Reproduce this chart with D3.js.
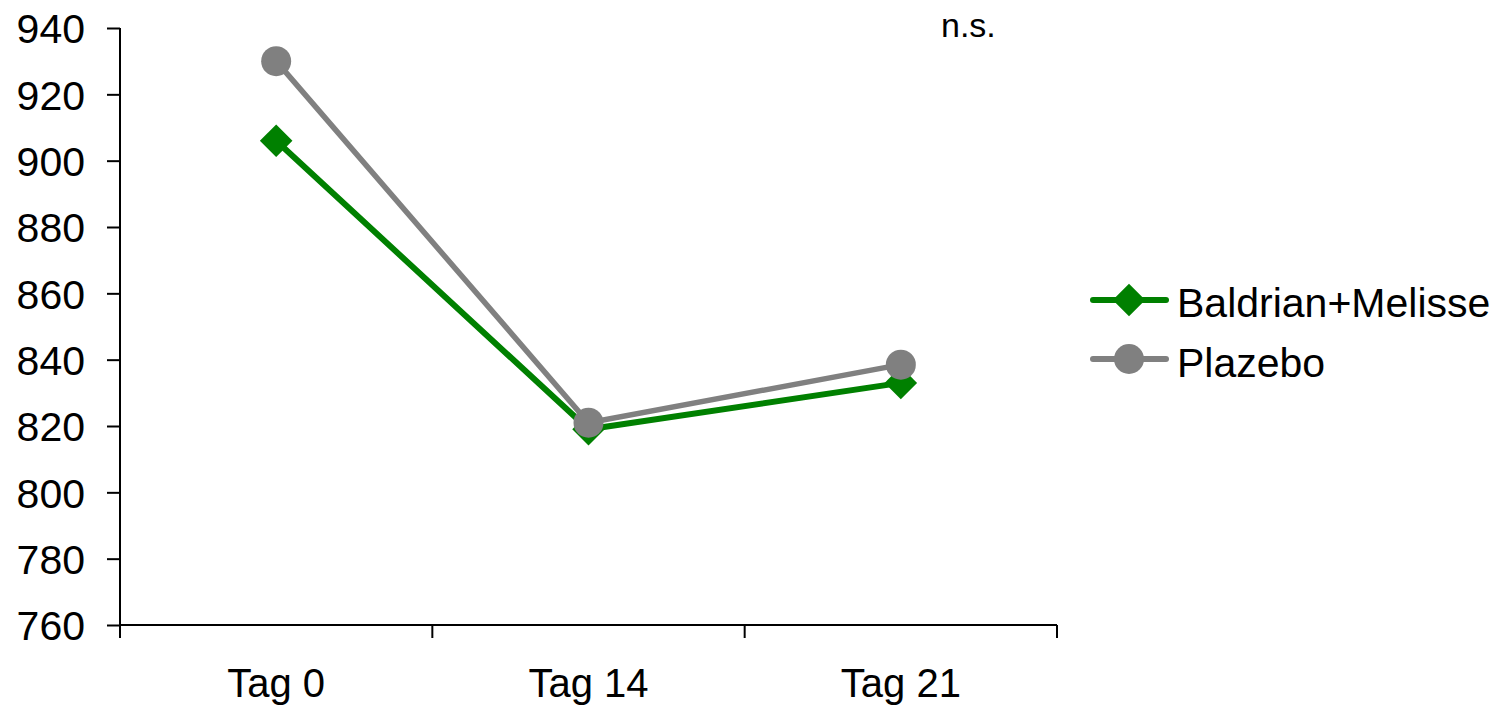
<!DOCTYPE html>
<html><head><meta charset="utf-8">
<script src="https://cdn.jsdelivr.net/npm/d3@7"></script>
<style>body{margin:0;background:#fff}svg{display:block}text{font-family:Arial,"Liberation Sans",sans-serif;fill:#000}</style>
</head><body>
<svg id="c" width="1499" height="708"></svg>
<script>
const categories = ["Tag 0", "Tag 14", "Tag 21"];
const seriesNames = ["Baldrian+Melisse", "Plazebo"];
const baldrian = [906, 819, 833];
const plazebo = [930, 821, 838.5];
const yTicks = [760, 780, 800, 820, 840, 860, 880, 900, 920, 940];
const colors = ["#008000", "#808080"];

const svg = d3.select("#c");
const x = d3.scaleBand().domain(categories).range([120, 1057]);
const y = d3.scaleLinear().domain([760, 940]).range([625, 28]);

// y axis
const ya = svg.append("g").attr("transform", "translate(120,0)")
  .call(d3.axisLeft(y).tickValues(yTicks).tickSize(13).tickPadding(22).tickFormat(d3.format("d")));
ya.select(".domain").attr("stroke", "#000").attr("stroke-width", 2).attr("d", "M0,28V625");
ya.selectAll(".tick line").attr("stroke", "#000").attr("stroke-width", 2);
ya.selectAll(".tick text").style("font-size", "41px").attr("dy", "0.36em");

// x axis
const xa = svg.append("g").attr("transform", "translate(0,625)")
  .call(d3.axisBottom(x).tickSize(0).tickPadding(44));
xa.select(".domain").attr("stroke", "#000").attr("stroke-width", 2).attr("d", "M120,0H1057");
xa.selectAll(".tick text").style("font-size", "40px");
// boundary ticks between categories
const bounds = [120].concat(categories.map(c => x(c) + x.bandwidth()));
xa.selectAll(".bt").data(bounds).enter().append("line")
  .attr("x1", d => d).attr("x2", d => d).attr("y1", 0).attr("y2", 13)
  .attr("stroke", "#000").attr("stroke-width", 2);

const cx = c => x(c) + x.bandwidth() / 2;
const line = d3.line().x((d, i) => cx(categories[i])).y(d => y(d));

// Series lines
svg.append("path").datum(baldrian).attr("d", line).attr("fill", "none")
  .attr("stroke", colors[0]).attr("stroke-width", 6);
svg.append("path").datum(plazebo).attr("d", line).attr("fill", "none")
  .attr("stroke", colors[1]).attr("stroke-width", 5.5);

const diamond = d3.symbol().type(d3.symbolSquare).size(23 * 23);
svg.selectAll(".dm").data(baldrian).enter().append("path")
  .attr("d", diamond)
  .attr("transform", (d, i) => `translate(${cx(categories[i])},${y(d)}) rotate(45)`)
  .attr("fill", colors[0]);
svg.selectAll(".ci").data(plazebo).enter().append("circle")
  .attr("cx", (d, i) => cx(categories[i])).attr("cy", d => y(d)).attr("r", 15)
  .attr("fill", colors[1]);

// n.s.
svg.append("text").attr("x", 941).attr("y", 37).style("font-size", "34px").text("n.s.");

// legend
const leg = svg.append("g");
const ly = [300, 359];
const lty = [317, 377];
seriesNames.forEach((n, i) => {
  leg.append("line").attr("x1", 1093).attr("x2", 1166).attr("y1", ly[i]).attr("y2", ly[i])
    .attr("stroke", colors[i]).attr("stroke-width", 6).attr("stroke-linecap", "round");
  if (i === 0) {
    leg.append("path").attr("d", diamond).attr("transform", `translate(1129,${ly[i]}) rotate(45)`).attr("fill", colors[i]);
  } else {
    leg.append("circle").attr("cx", 1129).attr("cy", ly[i]).attr("r", 15).attr("fill", colors[i]);
  }
  leg.append("text").attr("x", 1177).attr("y", lty[i]).style("font-size", "41px").text(n);
});
</script>
</body></html>
